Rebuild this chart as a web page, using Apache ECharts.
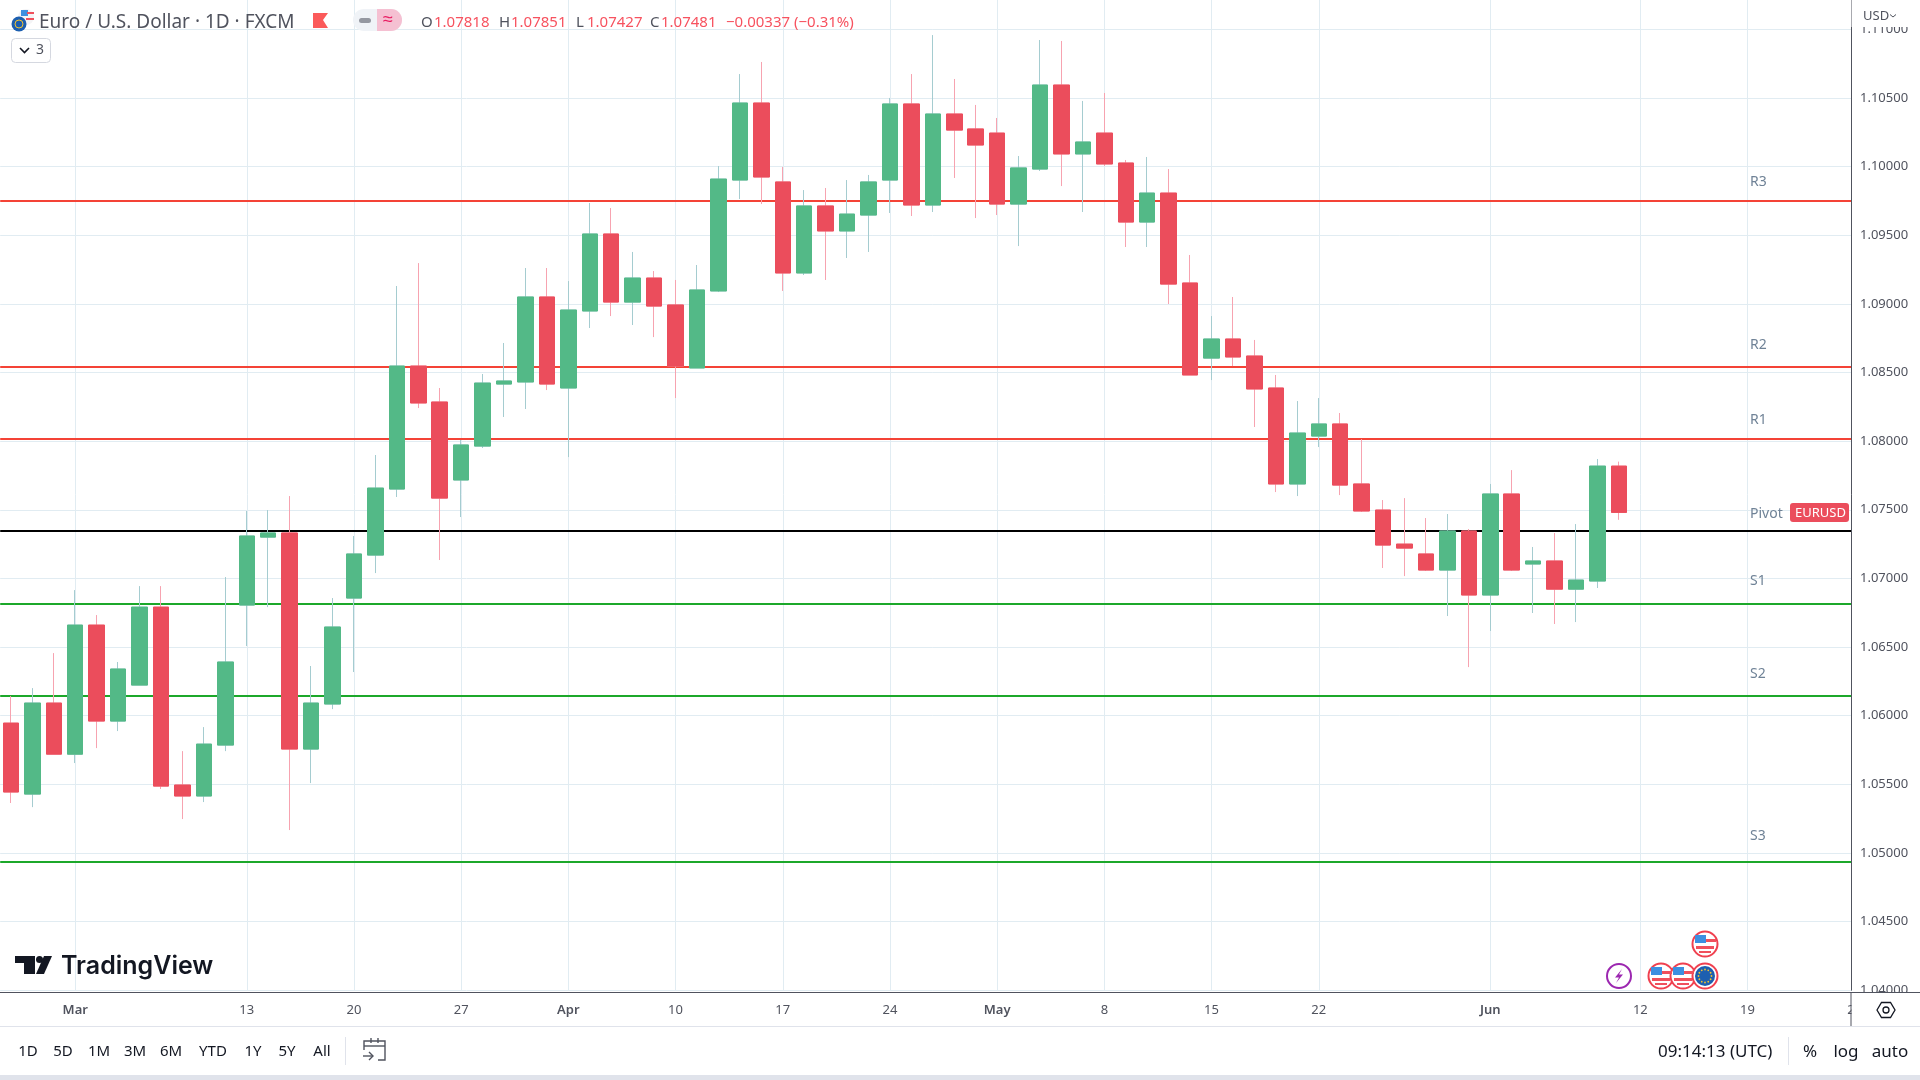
<!DOCTYPE html>
<html>
<head>
<meta charset="utf-8">
<title>EUR/USD</title>
<script src="https://cdn.jsdelivr.net/npm/echarts@6/dist/echarts.min.js"></script>
<style>
  html, body { margin: 0; padding: 0; background: #fff; }
  #chart { width: 1920px; height: 1080px; }
</style>
</head>
<body>
<div id="chart"></div>
<script>
// trading days on the axis, the last ones are still empty
const categories = [
  'Feb 24','Feb 27','Feb 28',
  'Mar 1','Mar 2','Mar 3','Mar 6','Mar 7','Mar 8','Mar 9','Mar 10','Mar 13','Mar 14','Mar 15','Mar 16','Mar 17','Mar 20','Mar 21','Mar 22','Mar 23','Mar 24','Mar 27','Mar 28','Mar 29','Mar 30','Mar 31',
  'Apr 3','Apr 4','Apr 5','Apr 6','Apr 7','Apr 10','Apr 11','Apr 12','Apr 13','Apr 14','Apr 17','Apr 18','Apr 19','Apr 20','Apr 21','Apr 24','Apr 25','Apr 26','Apr 27','Apr 28',
  'May 1','May 2','May 3','May 4','May 5','May 8','May 9','May 10','May 11','May 12','May 15','May 16','May 17','May 18','May 19','May 22','May 23','May 24','May 25','May 26','May 29','May 30','May 31',
  'Jun 1','Jun 2','Jun 5','Jun 6','Jun 7','Jun 8','Jun 9','Jun 12','Jun 13','Jun 14','Jun 15','Jun 16','Jun 19','Jun 20','Jun 21','Jun 22','Jun 23','Jun 26'
];

const tickDates = ['Mar 1','Mar 13','Mar 20','Mar 27','Apr 3','Apr 10','Apr 17','Apr 24','May 1','May 8','May 15','May 22','Jun 1','Jun 12','Jun 19','Jun 26'];
const tickTexts = ['Mar','13','20','27','Apr','10','17','24','May','8','15','22','Jun','12','19','26'];
const monthTicks = ['Mar','Apr','May','Jun'];

const opens = [
  1.05946,1.05429,1.06092,1.05720,1.06660,1.05961,1.06223,1.06791,1.05495,1.05415,
  1.05786,1.06806,1.07301,1.07331,1.05757,1.06085,1.06857,1.07170,1.07651,1.08547,
  1.08285,1.07717,1.07964,1.08416,1.08431,1.09050,1.08387,1.08948,1.09509,1.09013,
  1.09188,1.08992,1.08533,1.09094,1.09902,1.10463,1.09888,1.09225,1.09713,1.09531,
  1.09647,1.09902,1.10456,1.09720,1.10383,1.10274,1.10244,1.09727,1.09982,1.10594,
  1.10092,1.10244,1.10026,1.09596,1.09807,1.09152,1.08605,1.08744,1.08620,1.08387,
  1.07688,1.08037,1.08125,1.07688,1.07498,1.07250,1.07178,1.07061,1.07345,1.06879,
  1.07615,1.07105,1.07127,1.06922,1.06981,1.07818
];
const highs = [
  1.06143,1.06201,1.06456,1.06915,1.06733,1.06391,1.06944,1.06944,1.05742,1.05917,
  1.07010,1.07491,1.07498,1.07600,1.06362,1.06857,1.07309,1.07899,1.09130,1.09297,
  1.08387,1.08008,1.08489,1.08715,1.09261,1.09261,1.09166,1.09735,1.09698,1.09378,
  1.09239,1.09174,1.09283,1.10004,1.10674,1.10762,1.09997,1.09829,1.09844,1.09902,
  1.09939,1.10500,1.10674,1.10958,1.10638,1.10449,1.10354,1.10077,1.10922,1.10915,
  1.10478,1.10536,1.10048,1.10070,1.09982,1.09356,1.08911,1.09050,1.08737,1.08482,
  1.08292,1.08314,1.08205,1.08015,1.07571,1.07585,1.07440,1.07469,1.07360,1.07688,
  1.07789,1.07229,1.07331,1.07396,1.07870,1.07851
];
const lows = [
  1.05364,1.05334,1.05720,1.05655,1.05764,1.05888,1.06223,1.05466,1.05247,1.05371,
  1.05742,1.06507,1.06791,1.05167,1.05509,1.06048,1.06318,1.07039,1.07593,1.08241,
  1.07134,1.07447,1.07950,1.08176,1.08234,1.08372,1.07884,1.08824,1.08911,1.08846,
  1.08758,1.08314,1.08533,1.09086,1.09764,1.09727,1.09094,1.09210,1.09174,1.09334,
  1.09378,1.09662,1.09640,1.09669,1.09917,1.09625,1.09647,1.09421,1.09968,1.09858,
  1.09669,1.10004,1.09414,1.09414,1.08999,1.08482,1.08445,1.08547,1.08103,1.07629,
  1.07600,1.07957,1.07607,1.07484,1.07076,1.07017,1.07054,1.06726,1.06354,1.06617,
  1.07054,1.06748,1.06668,1.06682,1.06930,1.07427
];
const closes = [
  1.05444,1.06092,1.05720,1.06660,1.05961,1.06340,1.06791,1.05487,1.05415,1.05793,
  1.06391,1.07309,1.07331,1.05757,1.06092,1.06646,1.07178,1.07658,1.08547,1.08278,
  1.07585,1.07972,1.08423,1.08438,1.09050,1.08416,1.08955,1.09509,1.09013,1.09188,
  1.08984,1.08547,1.09101,1.09909,1.10463,1.09924,1.09225,1.09713,1.09531,1.09654,
  1.09888,1.10456,1.09720,1.10383,1.10266,1.10157,1.09727,1.09990,1.10594,1.10092,
  1.10179,1.10019,1.09596,1.09807,1.09144,1.08482,1.08744,1.08613,1.08380,1.07688,
  1.08059,1.08125,1.07680,1.07491,1.07243,1.07221,1.07061,1.07345,1.06879,1.07615,
  1.07061,1.07127,1.06922,1.06988,1.07818,1.07481
];

// pivot levels
const levelNames = ['R3','R2','R1','Pivot','S1','S2','S3'];
const levelValues = [1.09751,1.08540,1.08015,1.07345,1.06813,1.06143,1.04934];
const levelColors = ['#f44336','#f44336','#f44336','#000000','#1ca82a','#1ca82a','#1ca82a'];
const levelLabelY = [182,345,420,514,581,674,836];

const rangeButtons = ['1D','5D','1M','3M','6M','YTD','1Y','5Y','All'];
const rangeButtonX = [28,63,99,135,171,213,253,287,322];

const GREEN = '#53b987', RED = '#eb4d5c';
const GREEN_WICK = '#a5ccd0', RED_WICK = '#f7a3b0';
const AXIS_LINE = '#50535e', TEXT = '#50535e', GRID = '#e1ecf2';
const FONT = '"Noto Sans", sans-serif';

const isTick = (i) => tickDates.includes(categories[i]);

// build the toolbar and overlay bits
function text(x, y, str, size, color, opts) {
  return Object.assign({
    type: 'text', x, y, z: 12, silent: true,
    style: Object.assign({ text: str, fontSize: size, fontFamily: FONT, fill: color, textVerticalAlign: 'middle' }, opts || {})
  });
}
function line(x1, y1, x2, y2, color, w, z) {
  return { type: 'line', z: z || 12, silent: true, shape: { x1, y1, x2, y2 }, style: { stroke: color, lineWidth: w || 1 } };
}
function rect(x, y, width, height, fill, z, r) {
  return { type: 'rect', z: z || 12, silent: true, shape: { x, y, width, height, r: r || 0 }, style: { fill } };
}
function circle(cx, cy, r, fill, stroke, w) {
  return { type: 'circle', z: 12, silent: true, shape: { cx, cy, r }, style: { fill: fill, stroke: stroke, lineWidth: w || 0 } };
}
function poly(points, fill, stroke, w) {
  return { type: 'polygon', z: 12, silent: true, shape: { points }, style: { fill: fill, stroke: stroke, lineWidth: w || 0 } };
}
function usFlag(cx, cy) {
  return [
    circle(cx, cy, 12.5, '#fff', '#f0404f', 2),
    rect(cx - 10, cy - 9, 11, 8, '#3d8fe0', 13),
    rect(cx + 1, cy - 5, 10, 3, '#f0505c', 13),
    rect(cx - 9, cy + 2, 18, 3, '#f0505c', 13),
    rect(cx - 6, cy + 7, 12, 2, '#f0505c', 13)
  ];
}
function euFlag(cx, cy) {
  const items = [circle(cx, cy, 12.5, '#fff', '#f0404f', 2), circle(cx, cy, 10, '#1c5fb0')];
  for (let a = 0; a < 12; a++) {
    const t = a * Math.PI / 6;
    items.push(circle(cx + 6.5 * Math.cos(t), cy + 6.5 * Math.sin(t), 0.9, '#f2c230'));
  }
  return items;
}

const overlay = [
  // price scale panel, hides what runs past the axis
  rect(1851.5, 0, 69, 992, '#fff', 5),
  rect(1851.5, 993, 69, 33, '#fff', 11),
  rect(1851.5, 0, 69, 27, '#fff', 11),
  line(0, 992.5, 1920, 992.5, AXIS_LINE, 1, 12),
  line(1851, 992, 1851, 1026, AXIS_LINE, 1, 12),
  line(0, 1026.5, 1920, 1026.5, '#e0e3eb', 1, 12),
  rect(0, 1075, 1920, 5, '#e0e3eb', 12),

  text(1863, 16, 'USD', 13, TEXT),
  { type: 'polyline', z: 12, silent: true, shape: { points: [[1890, 14.5], [1893, 17], [1896, 14.5]] }, style: { stroke: TEXT, lineWidth: 1, fill: 'none' } },

  // header
  circle(26, 17, 8, '#f4f4f6'),
  rect(21, 10, 7, 6, '#3d8fe0', 12),
  rect(27, 12, 7, 2, '#f0505c', 12),
  rect(26, 18, 8, 2, '#f0505c', 12),
  circle(19, 24, 7.5, '#1c5fb0'),
  circle(19, 24, 4, 'none', '#f2c230', 1),
  text(39, 23, 'Euro / U.S. Dollar · 1D · FXCM', 19, TEXT),
  poly([[313, 13], [328, 13], [323, 20], [328, 28], [313, 28]], '#fb5a5a'),
  { type: 'rect', z: 12, silent: true, shape: { x: 353, y: 9, width: 49, height: 22, r: 11 }, style: { fill: '#f0f3f7' } },
  { type: 'rect', z: 12, silent: true, shape: { x: 377, y: 9, width: 25, height: 22, r: [0, 11, 11, 0] }, style: { fill: '#f5c0d2' } },
  rect(359, 18, 12, 5, '#9598a1', 13, 2.5),
  text(383, 20, '≈', 18, '#e91e63'),
  text(421, 23, 'O', 15, TEXT), text(434, 23, '1.07818', 15, '#f7525f'),
  text(499, 23, 'H', 15, TEXT), text(511, 23, '1.07851', 15, '#f7525f'),
  text(576, 23, 'L', 15, TEXT), text(587, 23, '1.07427', 15, '#f7525f'),
  text(650, 23, 'C', 15, TEXT), text(661, 23, '1.07481', 15, '#f7525f'),
  text(726, 23, '−0.00337 (−0.31%)', 15, '#f7525f'),

  { type: 'rect', z: 12, silent: true, shape: { x: 11.5, y: 38.5, width: 39, height: 24, r: 4 }, style: { fill: '#fff', stroke: '#d5d8e0', lineWidth: 1 } },
  { type: 'polyline', z: 13, silent: true, shape: { points: [[20, 48], [24.5, 52.5], [29, 48]] }, style: { stroke: '#131722', lineWidth: 1.6, fill: 'none' } },
  text(36, 50, '3', 14, TEXT),

  // logo
  poly([[15, 956], [35, 956], [35, 974], [24, 974], [24, 963], [15, 963]], '#131722'),
  circle(39.5, 959.5, 3.5, '#131722'),
  poly([[44, 956], [52, 956], [44, 974], [36, 974]], '#131722'),
  text(61, 966, 'TradingView', 25, '#131722', { fontFamily: 'Inter, sans-serif', fontWeight: 600 }),

  // level tags
  rect(1790, 503, 59, 19, RED, 12, 3),
  text(1795, 513, 'EURUSD', 13, '#fff'),

  // gear
  poly([[1877, 1010], [1881.5, 1002.5], [1890.5, 1002.5], [1895, 1010], [1890.5, 1017.5], [1881.5, 1017.5]], 'none', '#131722', 1.3),
  circle(1886, 1010, 3, 'none', '#131722', 1.3),

  // event markers
  circle(1619, 976, 12, '#fff', '#9c27b0', 2),
  poly([[1622, 969], [1615, 977.5], [1619, 977.5], [1616, 983], [1623, 974.5], [1619, 974.5]], '#9c27b0'),
  ...usFlag(1705, 944),
  ...usFlag(1661, 976),
  ...usFlag(1683, 976),
  ...euFlag(1705, 976),

  // bottom bar
  line(345.5, 1037, 345.5, 1065, '#e0e3eb', 1),
  { type: 'polyline', z: 12, silent: true, shape: { points: [[364, 1050], [364, 1041], [385, 1041], [385, 1060], [378, 1060]] }, style: { stroke: '#50535e', lineWidth: 1.4, fill: 'none' } },
  line(364, 1046, 385, 1046, '#50535e', 1.4),
  line(371, 1038, 371, 1043, '#50535e', 1.4),
  line(378, 1038, 378, 1043, '#50535e', 1.4),
  line(363, 1056, 373, 1056, '#50535e', 1.4),
  { type: 'polyline', z: 12, silent: true, shape: { points: [[369, 1052], [373, 1056], [369, 1060]] }, style: { stroke: '#50535e', lineWidth: 1.4, fill: 'none' } },
  text(1658, 1052, '09:14:13 (UTC)', 17, '#131722'),
  line(1788.5, 1037, 1788.5, 1065, '#e0e3eb', 1),
  text(1810, 1052, '%', 17, '#131722', { textAlign: 'center' }),
  text(1846, 1052, 'log', 17, '#131722', { textAlign: 'center' }),
  text(1890, 1052, 'auto', 17, '#131722', { textAlign: 'center' })
];

rangeButtons.forEach((b, i) => overlay.push(text(rangeButtonX[i], 1052, b, 15, '#131722', { textAlign: 'center' })));
levelNames.forEach((n, i) => overlay.push(text(1750, levelLabelY[i], n, 14, '#6f8296')));

const chart = echarts.init(document.getElementById('chart'), null, { renderer: 'canvas' });

chart.setOption({
  animation: false,
  backgroundColor: '#fff',
  textStyle: { fontFamily: FONT },
  grid: { left: 0.2, top: -39.34, width: 1865.28, height: 1029.6, containLabel: false, outerBoundsMode: 'none' },
  xAxis: {
    type: 'category',
    data: categories,
    boundaryGap: true,
    offset: 2,
    axisLine: { show: false },
    axisTick: { show: false },
    splitLine: { show: true, interval: isTick, alignWithLabel: true, lineStyle: { color: GRID, width: 1 } },
    axisLabel: {
      interval: isTick,
      margin: 12,
      fontSize: 13,
      color: TEXT,
      formatter: (v) => {
        const t = tickTexts[tickDates.indexOf(v)];
        return monthTicks.includes(t) ? '{m|' + t + '}' : t;
      },
      rich: { m: { fontSize: 13, fontWeight: 600, color: TEXT } }
    }
  },
  yAxis: [
    {
      type: 'value', min: 1.04, max: 1.115, interval: 0.005,
      position: 'right',
      axisLine: { show: false }, axisTick: { show: false }, axisLabel: { show: false },
      splitLine: { show: true, lineStyle: { color: GRID, width: 1 } }
    },
    {
      type: 'value', min: 1.04, max: 1.115, interval: 0.005,
      position: 'right', offset: -14.5, z: 10,
      axisLine: { show: true, onZero: false, lineStyle: { color: AXIS_LINE, width: 1 } },
      axisTick: { show: false },
      splitLine: { show: false },
      axisLabel: { margin: 9, fontSize: 13, color: TEXT, padding: [2, 0, 0, 0], formatter: (v) => v.toFixed(5) }
    }
  ],
  series: [
    {
      type: 'line', data: [], z: 1, silent: true,
      markLine: {
        z: 1, silent: true, symbol: 'none', animation: false, precision: 5,
        label: { show: false },
        data: levelValues.map((v, i) => ({ yAxis: v, lineStyle: { color: levelColors[i], width: 2, type: 'solid' } }))
      }
    },
    {
      // full range, only the wicks stay visible
      type: 'candlestick', z: 2, silent: true, barWidth: 16,
      data: opens.map((o, i) => [o, closes[i], lows[i], highs[i]]),
      itemStyle: { color: GREEN, color0: RED, borderColor: GREEN_WICK, borderColor0: RED_WICK, borderWidth: 1 }
    },
    {
      // bodies on top so their border keeps the body colour
      type: 'candlestick', z: 3, silent: true, barWidth: 16,
      data: opens.map((o, i) => [o, closes[i], Math.min(o, closes[i]), Math.max(o, closes[i])]),
      itemStyle: { color: GREEN, color0: RED, borderColor: GREEN, borderColor0: RED, borderWidth: 1 }
    }
  ],
  graphic: { elements: overlay }
});
</script>
</body>
</html>
